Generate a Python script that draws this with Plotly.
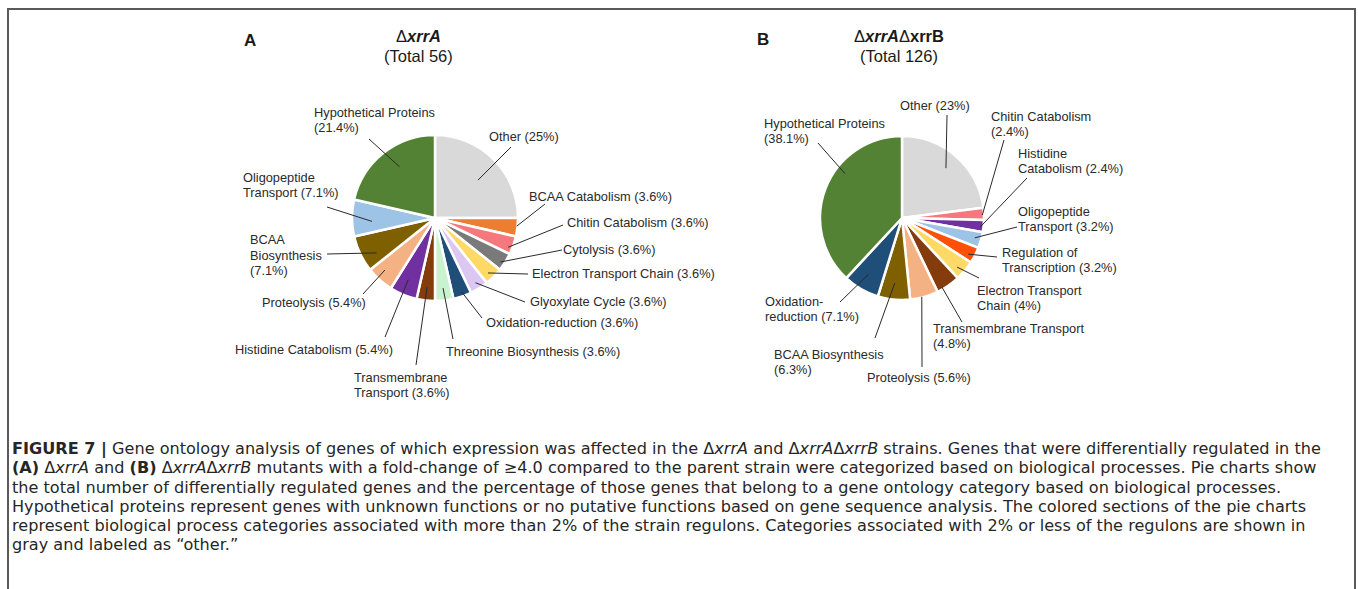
import math
import re
import plotly.graph_objects as go

W, H = 1358, 589

# Panel A: ΔxrrA regulon, gene counts per biological process (clockwise from 12 o'clock)
a_categories = ["Other", "BCAA Catabolism", "Chitin Catabolism", "Cytolysis",
                "Electron Transport Chain", "Glyoxylate Cycle", "Oxidation-reduction",
                "Threonine Biosynthesis", "Transmembrane Transport", "Histidine Catabolism",
                "Proteolysis", "BCAA Biosynthesis", "Oligopeptide Transport",
                "Hypothetical Proteins"]
a_counts = [14, 2, 2, 2, 2, 2, 2, 2, 2, 3, 3, 4, 4, 12]

# Panel B: ΔxrrAΔxrrB regulon
b_categories = ["Other", "Chitin Catabolism", "Histidine Catabolism", "Oligopeptide Transport",
                "Regulation of Transcription", "Electron Transport Chain",
                "Transmembrane Transport", "Proteolysis", "BCAA Biosynthesis",
                "Oxidation-reduction", "Hypothetical Proteins"]
b_counts = [29, 3, 3, 4, 4, 5, 6, 7, 8, 9, 48]

category_colors = {
    "Other": "#d9d9d9",
    "BCAA Catabolism": "#ed7d31",
    "Chitin Catabolism": "#f5787d",
    "Cytolysis": "#7a7a7a",
    "Electron Transport Chain": "#ffd966",
    "Glyoxylate Cycle": "#dcc6f2",
    "Oxidation-reduction": "#1f4e79",
    "Threonine Biosynthesis": "#c8f2d0",
    "Transmembrane Transport": "#843c0c",
    "Histidine Catabolism": "#7030a0",
    "Proteolysis": "#f4b183",
    "BCAA Biosynthesis": "#7f6000",
    "Oligopeptide Transport": "#9dc3e6",
    "Hypothetical Proteins": "#548235",
    "Regulation of Transcription": "#ff5008",
}

caption_lines = [
    "<b>FIGURE 7 |</b> Gene ontology analysis of genes of which expression was affected in the "
    "Δ<i>xrrA</i> and Δ<i>xrrA</i>Δ<i>xrrB</i> strains. Genes that were differentially regulated in the",
    "<b>(A)</b> Δ<i>xrrA</i> and <b>(B)</b> Δ<i>xrrA</i>Δ<i>xrrB</i> mutants with a fold-change of "
    "≥4.0 compared to the parent strain were categorized based on biological processes. Pie charts show",
    "the total number of differentially regulated genes and the percentage of those genes that "
    "belong to a gene ontology category based on biological processes.",
    "Hypothetical proteins represent genes with unknown functions or no putative functions based "
    "on gene sequence analysis. The colored sections of the pie charts",
    "represent biological process categories associated with more than 2% of the strain regulons. "
    "Categories associated with 2% or less of the regulons are shown in",
    "gray and labeled as “other.”",
]

# ---- layout (pixel units) -------------------------------------------------
# pie centre x, centre y, radius
pie_geom = {"A": (435, 218, 83), "B": (902, 218, 82)}

# label: text left, text middle y, words per line (None = one line),
#        leader start (x, y), position along slice t, radial fraction f
a_label_layout = {
    "Other": (489, 137, None, (511, 147), 0.54, 0.69),
    "BCAA Catabolism": (529, 196, None, (545, 204), 0.44, 0.99),
    "Chitin Catabolism": (567, 222, None, (563, 225), 0.69, 0.95),
    "Cytolysis": (563, 249, None, (562, 250), 0.64, 0.95),
    "Electron Transport Chain": (532, 274, None, (528, 274), 0.58, 0.92),
    "Glyoxylate Cycle": (530, 301, None, (525, 302), 0.51, 0.92),
    "Oxidation-reduction": (486, 322, None, (482, 318), 0.45, 0.95),
    "Threonine Biosynthesis": (446, 351, None, (453, 339), 0.49, 0.85),
    "Transmembrane Transport": (354, 385, [1, 2], (416, 365), 0.51, 0.84),
    "Histidine Catabolism": (235, 349, None, (385, 337), 0.55, 0.81),
    "Proteolysis": (262, 302, None, (363, 294), 0.61, 0.87),
    "BCAA Biosynthesis": (250, 255, [1, 1, 1], (327, 254), 0.30, 0.82),
    "Oligopeptide Transport": (243, 185, [1, 2], (327, 207), 0.38, 0.76),
    "Hypothetical Proteins": (314, 120, [2, 1], (369, 139), 0.55, 0.75),
}
b_label_layout = {
    "Other": (900, 105, None, (947, 115), 0.50, 0.81),
    "Hypothetical Proteins": (764, 131, [2, 1], (818, 143), 0.62, 0.88),
    "Chitin Catabolism": (991, 124, [2, 1], (1004, 140), 0.59, 0.98),
    "Histidine Catabolism": (1018, 161, [1, 2], (1027, 178), 0.60, 0.96),
    "Oligopeptide Transport": (1018, 219, [1, 2], (1017, 227), 0.46, 0.92),
    "Regulation of Transcription": (1002, 260, [2, 2], (997, 257), 0.63, 0.92),
    "Electron Transport Chain": (977, 298, [2, 2], (979, 278), 0.62, 0.90),
    "Transmembrane Transport": (933, 336, [2, 1], (962, 322), 0.75, 0.97),
    "Proteolysis": (867, 378, None, (922, 367), 0.58, 0.99),
    "BCAA Biosynthesis": (774, 362, [2, 1], (875, 338), 0.53, 0.80),
    "Oxidation-reduction": (765, 309, [1, 2], (840, 302), 0.53, 0.80),
}

LABEL_FONT = dict(family="Liberation Sans, Arial, sans-serif", size=12.8, color="#2a2a2a")
LABEL_PITCH = 15.5
LINE_COLOR = "#2a2a2a"
TITLE_FONT = dict(family="Liberation Sans, Arial, sans-serif", size=16.5, color="#1a1a1a")
CAPTION_FONT = dict(family="DejaVu Sans, sans-serif", size=16.1, color="#262626")


def px(x):
    return x / W


def py(y):
    return 1 - y / H


def pct_text(count, total):
    s = f"{100 * count / total:.1f}"
    return s.rstrip("0").rstrip(".")


def wrap_label(name, pct, wrap):
    tokens = re.findall(r"[^\s-]+-?", name) + [f"({pct}%)"]
    if wrap is None:
        wrap = [len(tokens)]
    lines, i = [], 0
    for n in wrap:
        line = ""
        for tok in tokens[i:i + n]:
            if line and not line.endswith("-"):
                line += " "
            line += tok
        i += n
        lines.append(line)
    return lines


fig = go.Figure()
annotations = []
shapes = []


def add_text(x, y, text, font, xanchor="left"):
    annotations.append(dict(
        x=px(x), y=py(y), xref="paper", yref="paper",
        xanchor=xanchor, yanchor="middle", align=xanchor if xanchor != "center" else "center",
        text=text, showarrow=False, font=font, borderpad=0, borderwidth=0))


def add_lines(x, y_mid, lines, font, pitch, xanchor="left"):
    n = len(lines)
    for k, line in enumerate(lines):
        add_text(x, y_mid + (k - (n - 1) / 2) * pitch, line, font, xanchor)


def add_panel(key, categories, counts, label_layout):
    cx, cy, r = pie_geom[key]
    fig.add_trace(go.Pie(
        labels=categories,
        values=counts,
        sort=False,
        direction="clockwise",
        rotation=0,
        textinfo="none",
        hoverinfo="label+value+percent",
        marker=dict(colors=[category_colors[c] for c in categories],
                    line=dict(color="white", width=2.5)),
        domain=dict(x=[px(cx - r), px(cx + r)], y=[py(cy + r), py(cy - r)]),
        showlegend=False,
    ))
    total = sum(counts)
    start = 0
    for cat, cnt in zip(categories, counts):
        tx, ty, wrap, (lx, ly), t, f = label_layout[cat]
        theta = math.radians((start + t * cnt) / total * 360)
        ex = cx + f * r * math.sin(theta)
        ey = cy - f * r * math.cos(theta)
        shapes.append(dict(type="line", xref="paper", yref="paper",
                           x0=px(lx), y0=py(ly), x1=px(ex), y1=py(ey),
                           line=dict(color=LINE_COLOR, width=1)))
        add_lines(tx, ty, wrap_label(cat, pct_text(cnt, total), wrap), LABEL_FONT, LABEL_PITCH)
        start += cnt
    return total


total_a = add_panel("A", a_categories, a_counts, a_label_layout)
total_b = add_panel("B", b_categories, b_counts, b_label_layout)

# panel letters and titles
add_text(250, 41, "<b>A</b>", dict(TITLE_FONT, size=17), "center")
add_text(763, 40, "<b>B</b>", dict(TITLE_FONT, size=17), "center")
add_lines(418, 46, ["Δ<b><i>xrrA</i></b>", f"(Total {total_a})"], TITLE_FONT, 19, "center")
add_lines(899, 46, ["Δ<b><i>xrrA</i></b>Δ<b>xrrB</b>", f"(Total {total_b})"],
          TITLE_FONT, 19, "center")

# caption
for i, line in enumerate(caption_lines):
    add_text(12, 449 + 19 * i, line, CAPTION_FONT)

# figure frame (open at the bottom edge)
shapes.append(dict(type="rect", xref="paper", yref="paper",
                   x0=px(8), x1=px(1355), y0=py(620), y1=py(9),
                   line=dict(color="#5a5a5a", width=2), fillcolor="rgba(0,0,0,0)"))

fig.update_layout(
    width=W, height=H,
    margin=dict(l=0, r=0, t=0, b=0),
    paper_bgcolor="white", plot_bgcolor="white",
    annotations=annotations, shapes=shapes,
)

fig.write_html("out.html")
